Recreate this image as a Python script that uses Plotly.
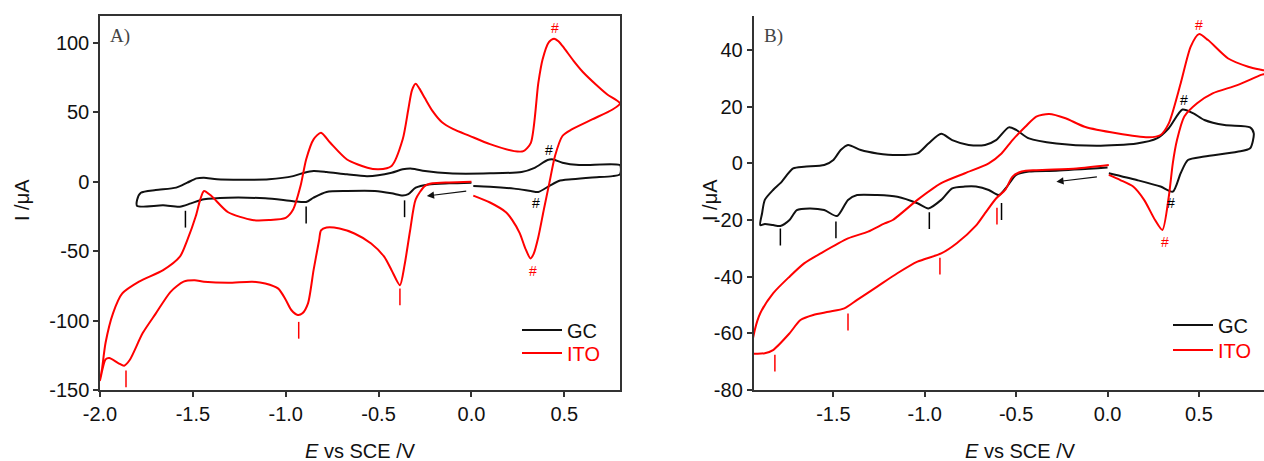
import plotly.graph_objects as go

# ---------------- Panel A (data) ----------------
A_GC_E = [0.00, -0.12, -0.23, -0.30, -0.34, -0.37, -0.43, -0.52, -0.67, -0.78, -0.85, -0.89, -0.96, -1.11,
          -1.31, -1.44, -1.51, -1.57, -1.66, -1.80, -1.80, -1.78, -1.70, -1.59, -1.53, -1.48, -1.44, -1.37,
          -1.22, -1.09, -0.96, -0.90, -0.85, -0.78, -0.67, -0.56, -0.43, -0.37, -0.32, -0.25, -0.12, 0.10,
          0.27, 0.34, 0.41, 0.44, 0.49, 0.58, 0.80, 0.805, 0.80, 0.76, 0.65, 0.54, 0.47, 0.42, 0.36, 0.32,
          0.23, 0.10, 0.01]
A_GC_I = [-0.7, -1.2, -2.0, -4.3, -9.0, -10.0, -8.4, -6.7, -6.7, -7.4, -11.5, -14.6, -14.0, -12.0,
          -11.5, -12.7, -15.6, -18.0, -17.0, -17.5, -13.0, -8.0, -6.0, -4.3, -0.7, 2.4, 2.9, 1.7,
          1.4, 1.7, 4.0, 6.5, 7.7, 7.0, 5.3, 4.0, 6.5, 8.9, 9.4, 7.7, 6.0, 6.0,
          7.0, 10.0, 15.6, 16.0, 13.7, 12.0, 12.0, 9.0, 5.3, 4.0, 3.0, 1.7, 0.5, -3.0, -7.4, -6.7,
          -5.0, -3.6, -3.1]

A_ITO_E = [0.00, -0.12, -0.21, -0.25, -0.30, -0.33, -0.36, -0.385, -0.43, -0.47, -0.54, -0.63, -0.71, -0.78,
           -0.81, -0.82, -0.85, -0.88, -0.91, -0.935, -0.97, -1.00, -1.04, -1.11, -1.18, -1.31, -1.44, -1.49,
           -1.55, -1.62, -1.70, -1.77, -1.84, -1.87, -1.90, -1.95, -1.97, -2.00,
           -1.99, -1.97, -1.93, -1.88, -1.79, -1.66, -1.57, -1.53, -1.484, -1.46, -1.44, -1.40, -1.31, -1.18,
           -1.09, -1.00, -0.96, -0.92, -0.89, -0.85, -0.81, -0.76, -0.67, -0.56, -0.50, -0.43, -0.37, -0.34,
           -0.32, -0.30, -0.28, -0.25, -0.21, -0.16, -0.10, -0.01, 0.10, 0.23, 0.28, 0.32, 0.36, 0.383, 0.417,
           0.445, 0.47, 0.50, 0.55, 0.60, 0.67, 0.73, 0.80,
           0.76, 0.65, 0.54, 0.49, 0.45, 0.42, 0.39, 0.36, 0.335, 0.318, 0.29, 0.26, 0.22, 0.186, 0.10, 0.01]
A_ITO_I = [0.0, -0.5, -1.2, -3.0, -12.7, -35.0, -60.0, -74.5, -63.7, -54.0, -44.5, -37.3, -33.7, -33.0,
           -35.0, -42.0, -63.7, -87.6, -94.8, -96.0, -92.4, -85.0, -77.0, -73.3, -72.0, -72.8, -72.0, -71.0,
           -72.0, -79.3, -95.0, -109.0, -128.4, -132.5, -130.8, -127.0, -128.0, -143.0,
           -135.6, -116.0, -94.8, -80.5, -72.0, -63.7, -54.0, -42.0, -24.7, -12.7, -6.7, -10.3, -22.0, -27.6,
           -27.6, -26.0, -20.0, -3.0, 16.0, 30.5, 35.3, 28.0, 16.0, 10.0, 8.9, 11.3, 30.5, 52.0,
           66.0, 70.5, 67.0, 60.0, 51.0, 43.0, 38.0, 33.0, 27.0, 22.0, 22.0, 28.0, 71.0, 88.0, 100.5,
           103.0, 101.0, 96.0, 87.0, 79.0, 70.0, 63.0, 56.4,
           52.0, 44.8, 37.6, 32.9, 18.5, -0.7, -20.0, -40.0, -52.0, -55.3, -48.0, -37.0, -27.7, -22.0, -15.0, -10.0]

# ---------------- Panel B (data) ----------------
B_GC_E = [0.0, -0.28, -0.43, -0.50, -0.55, -0.595, -0.65, -0.72, -0.78, -0.85, -0.91, -0.98, -1.04, -1.15,
          -1.26, -1.37, -1.42, -1.48, -1.55, -1.63, -1.70, -1.74, -1.79, -1.83, -1.875, -1.90,
          -1.89, -1.875, -1.83, -1.79, -1.72, -1.66, -1.55, -1.50, -1.46, -1.42, -1.35, -1.26, -1.15, -1.04,
          -0.98, -0.91, -0.85, -0.76, -0.67, -0.61, -0.54, -0.50, -0.43, -0.28, -0.06, 0.16, 0.27, 0.335,
          0.41, 0.47, 0.53, 0.64, 0.78, 0.80, 0.78, 0.71, 0.53, 0.44, 0.40, 0.357, 0.29, 0.16, 0.007]
B_GC_I = [-1.5, -2.6, -2.9, -4.1, -8.2, -11.2, -9.4, -8.2, -8.2, -8.8, -12.9, -15.9, -14.1, -11.8,
          -11.2, -11.2, -12.9, -18.6, -16.5, -15.9, -16.5, -20.0, -22.1, -21.8, -21.4, -21.8,
          -17.6, -12.9, -9.4, -7.0, -1.8, -1.2, -0.6, 1.2, 4.7, 6.5, 4.7, 3.5, 2.9, 3.5,
          7.0, 10.4, 8.2, 6.5, 6.5, 8.2, 12.7, 11.8, 8.8, 7.0, 6.2, 7.0, 8.8, 12.4,
          19.0, 17.6, 15.3, 13.5, 12.7, 10.6, 5.3, 4.1, 2.4, 1.2, -3.5, -10.0, -8.2, -5.9, -3.5]

B_ITO_E = [0.007, -0.17, -0.39, -0.47, -0.52, -0.56, -0.61, -0.67, -0.72, -0.825, -0.91, -1.04, -1.15, -1.26,
           -1.37, -1.44, -1.525, -1.61, -1.68, -1.74, -1.83, -1.875, -1.947,
           -1.947, -1.93, -1.90, -1.83, -1.74, -1.66, -1.57, -1.42, -1.31, -1.22, -1.175, -1.04, -0.91, -0.78,
           -0.65, -0.58, -0.52, -0.45, -0.39, -0.32, -0.23, -0.125, 0.05, 0.225, 0.29, 0.335, 0.40, 0.455,
           0.50, 0.55, 0.66, 0.77, 0.84, 0.87,
           0.87, 0.84, 0.71, 0.575, 0.49, 0.42, 0.38, 0.357, 0.335, 0.30, 0.26, 0.20, 0.14, 0.07, 0.007]
B_ITO_I = [-0.6, -1.8, -2.4, -2.9, -4.7, -9.4, -12.4, -17.6, -22.0, -28.2, -31.8, -34.7, -38.8, -43.5,
           -48.2, -51.2, -52.4, -53.5, -55.3, -60.0, -65.9, -67.0, -67.0,
           -65.3, -58.8, -52.9, -45.9, -40.0, -35.3, -31.8, -26.5, -24.1, -21.2, -20.0, -12.9, -7.0, -3.5,
           0.0, 3.5, 8.2, 12.9, 16.5, 17.4, 15.9, 12.9, 10.6, 9.2, 10.0, 14.1, 28.2, 41.2,
           45.6, 43.5, 37.0, 34.1, 33.0, 32.6,
           31.8, 31.2, 27.6, 24.7, 21.2, 16.5, 8.2, 0.0, -11.8, -23.5, -20.0, -12.9, -8.2, -5.9, -4.1]

# peak labels "#" : (E, I, colour)
A_HASH_E = [0.45, 0.42, 0.35, 0.33]
A_HASH_I = [110.8, 23.0, -15.0, -64.5]
A_HASH_C = ["red", "black", "black", "red"]
B_HASH_E = [0.50, 0.42, 0.346, 0.317]
B_HASH_I = [48.8, 22.4, -14.1, -27.6]
B_HASH_C = ["red", "black", "black", "red"]

# peak tick marks "|" : (E, I, colour)
A_BAR_E = [-1.54, -0.89, -0.36, -0.385, -0.93, -1.86]
A_BAR_I = [-27.0, -24.0, -19.5, -83.0, -107.0, -142.0]
A_BAR_C = ["black", "black", "black", "red", "red", "red"]
B_BAR_E = [-1.79, -1.486, -0.975, -0.58, -0.605, -0.917, -1.42, -1.82]
B_BAR_I = [-26.0, -23.5, -20.2, -17.0, -18.6, -36.3, -56.0, -70.5]
B_BAR_C = ["black", "black", "black", "black", "red", "red", "red", "red"]

A_XTICKS = [-2.0, -1.5, -1.0, -0.5, 0.0, 0.5]
A_XTEXT = ["-2.0", "-1.5", "-1.0", "-0.5", "0.0", "0.5"]
A_YTICKS = [-150, -100, -50, 0, 50, 100]
A_YTEXT = ["-150", "-100", "-50", "0", "50", "100"]
B_XTICKS = [-1.5, -1.0, -0.5, 0.0, 0.5]
B_XTEXT = ["-1.5", "-1.0", "-0.5", "0.0", "0.5"]
B_YTICKS = [-80, -60, -40, -20, 0, 20, 40]
B_YTEXT = ["-80", "-60", "-40", "-20", "0", "20", "40"]

W, H = 1264, 461
FONT = "Liberation Sans, Arial, sans-serif"
AXC = "#333333"
BLACK = "#111111"
RED = "#ff0000"

fig = go.Figure()


def curve(x, y, name, color, legend, xa, ya):
    fig.add_trace(go.Scatter(x=x, y=y, name=name, legend=legend, xaxis=xa, yaxis=ya, mode="lines",
                             line=dict(color=color, width=2, shape="spline", smoothing=0.7),
                             hoverinfo="skip"))


curve(A_GC_E, A_GC_I, "GC", BLACK, "legend", "x", "y")
curve(A_ITO_E, A_ITO_I, "<span style='color:#ff0000'>ITO</span>", RED, "legend3", "x", "y")
curve(B_GC_E, B_GC_I, "GC", BLACK, "legend2", "x2", "y2")
curve(B_ITO_E, B_ITO_I, "<span style='color:#ff0000'>ITO</span>", RED, "legend4", "x2", "y2")

# tick marks under the peaks
for ex, iy, cc, xa, ya in [(A_BAR_E, A_BAR_I, A_BAR_C, "x", "y"), (B_BAR_E, B_BAR_I, B_BAR_C, "x2", "y2")]:
    fig.add_trace(go.Scatter(x=ex, y=iy, mode="markers", xaxis=xa, yaxis=ya, showlegend=False,
                             hoverinfo="skip",
                             marker=dict(symbol="line-ns", size=12, color=cc, line=dict(color=cc, width=1.5))))

ydom = [71 / H, 445 / H]
common = dict(showgrid=False, zeroline=False, showline=True, linecolor=AXC, linewidth=1.5,
              ticks="outside", ticklen=5, tickwidth=1.5, tickcolor=AXC, automargin=False,
              tickfont=dict(family=FONT, size=20, color=BLACK))

annotations = []
for ex, iy, cc, xr, yr in [(A_HASH_E, A_HASH_I, A_HASH_C, "x", "y"), (B_HASH_E, B_HASH_I, B_HASH_C, "x2", "y2")]:
    for e, i, c in zip(ex, iy, cc):
        annotations.append(dict(x=e, y=i, xref=xr, yref=yr, text="#", showarrow=False,
                                font=dict(family=FONT, size=14, color=c)))

# scan direction arrows
annotations.append(dict(x=-0.24, y=-10.3, ax=-0.02, ay=-6.7, xref="x", yref="y", axref="x", ayref="y",
                        text="", showarrow=True, arrowhead=2, arrowsize=1.2, arrowwidth=1.2, arrowcolor=BLACK))
annotations.append(dict(x=-0.28, y=-6.5, ax=-0.05, ay=-4.7, xref="x2", yref="y2", axref="x2", ayref="y2",
                        text="", showarrow=True, arrowhead=2, arrowsize=1.2, arrowwidth=1.2, arrowcolor=BLACK))

# panel labels
annotations.append(dict(x=108 / W, y=(H - 36) / H, xref="paper", yref="paper", text="A)", showarrow=False,
                        xanchor="left", yanchor="middle",
                        font=dict(family="Liberation Serif, serif", size=19, color="#444444")))
annotations.append(dict(x=762 / W, y=(H - 36) / H, xref="paper", yref="paper", text="B)", showarrow=False,
                        xanchor="left", yanchor="middle",
                        font=dict(family="Liberation Serif, serif", size=19, color="#444444")))

# axis titles
for xc in [360, 1020]:
    annotations.append(dict(x=xc / W, y=(H - 451) / H, xref="paper", yref="paper",
                            text="<i>E</i> vs SCE /V", showarrow=False, xanchor="center", yanchor="middle",
                            font=dict(family=FONT, size=20, color=BLACK)))
for xc in [22, 710]:
    annotations.append(dict(x=xc / W, y=(H - 200) / H, xref="paper", yref="paper",
                            text="I /μA", showarrow=False, textangle=-90, xanchor="center", yanchor="middle",
                            font=dict(family=FONT, size=20, color=BLACK)))


def leg(xpx, ypx):
    return dict(x=xpx / W, y=(H - ypx) / H, xanchor="left", yanchor="middle", bgcolor="rgba(0,0,0,0)",
                font=dict(family=FONT, size=20, color=BLACK), itemwidth=40, tracegroupgap=0)


fig.update_layout(
    template="none",
    width=W, height=H, margin=dict(l=0, r=0, t=0, b=0, autoexpand=False),
    paper_bgcolor="white", plot_bgcolor="white",
    xaxis=dict(domain=[100 / W, 620 / W], range=[-2.0, 0.8], anchor="y", mirror=True,
               tickvals=A_XTICKS, ticktext=A_XTEXT, **common),
    yaxis=dict(domain=ydom, range=[-150, 119.3], anchor="x", mirror=True,
               tickvals=A_YTICKS, ticktext=A_YTEXT, **common),
    xaxis2=dict(domain=[753.5 / W, 1.0], range=[-1.937, 0.856], anchor="y2",
                tickvals=B_XTICKS, ticktext=B_XTEXT, **common),
    yaxis2=dict(domain=ydom, range=[-80, 52], anchor="x2",
                tickvals=B_YTICKS, ticktext=B_YTEXT, **common),
    xaxis3=dict(overlaying="x2", side="top", anchor="y2", range=[-1.937, 0.856], showline=True,
                linecolor=AXC, linewidth=1.5, showticklabels=False, ticks="", showgrid=False,
                zeroline=False, automargin=False),
    legend=leg(517, 330),
    legend3=leg(517, 353),
    legend2=leg(1168, 325),
    legend4=leg(1168, 350),
    annotations=annotations,
    showlegend=True,
)

fig.write_html("out.html", config={"displayModeBar": False},
               post_script="document.body.style.margin='0px';document.body.style.overflow='hidden';")
